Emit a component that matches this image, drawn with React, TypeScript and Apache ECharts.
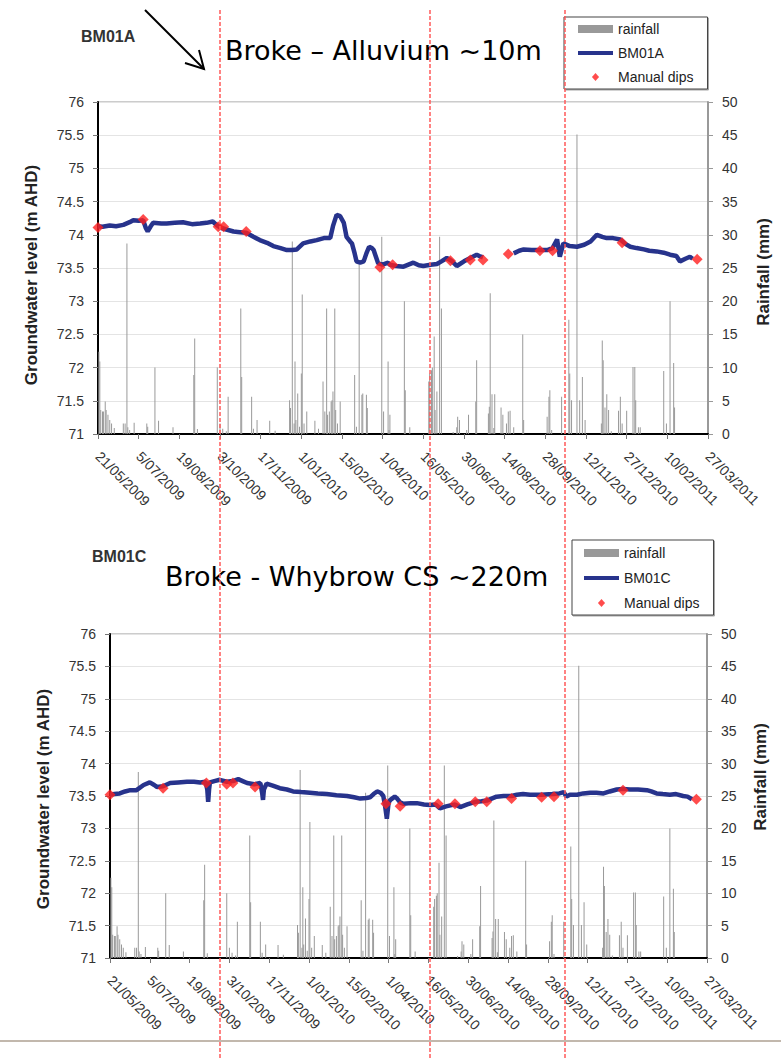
import React, { useEffect, useRef } from "react";
import * as echarts from "echarts";

// Day offsets from 21/05/2009
const X_MIN = 0;
const X_MAX = 675;
const X_STEP = 45;

// Daily rainfall [day, mm]
const RAINFALL: [number, number][] = [
  [1, 12.4], [2, 10.9], [3, 3.6], [5, 3.4], [6, 3.4], [8, 4.9], [9, 3.6], [11, 2.9], [13, 2.1], [15, 1.6],
  [18, 0.9], [28, 1.6], [30, 1.6], [32, 28.7], [33, 1.0], [35, 0.6], [40, 1.7], [54, 1.6], [55, 1.1],
  [63, 10.0], [67, 2.0], [83, 1.0], [106, 8.9], [107, 14.4], [110, 0.75], [132, 10.0], [135, 1.6],
  [138, 0.8], [142, 0.4], [144, 5.6], [158, 18.9], [159, 8.6], [170, 5.6], [172, 0.8], [176, 2.1],
  [190, 2.0], [196, 0.5], [212, 5.1], [213, 3.9], [215, 29.0], [217, 1.6], [218, 10.9], [219, 2.1],
  [221, 6.1], [223, 1.1], [225, 9.1], [226, 21.0], [228, 1.6], [231, 3.4], [240, 2.0], [244, 0.8],
  [249, 7.9], [251, 3.4], [253, 18.9], [254, 2.9], [256, 3.4], [258, 4.9], [259, 5.1], [260, 6.4],
  [262, 18.9], [263, 3.6], [265, 1.6], [268, 4.9], [284, 8.9], [286, 1.1], [289, 25.5], [292, 5.9],
  [293, 6.1], [297, 5.9], [298, 3.9], [314, 29.7], [316, 3.4], [321, 10.9], [322, 0.6], [323, 2.9],
  [339, 20.0], [340, 6.6], [345, 1.0], [366, 7.9], [367, 9.1], [369, 9.6], [370, 10.0], [372, 14.7],
  [373, 3.6], [375, 6.4], [378, 29.7], [380, 18.9], [393, 0.3], [397, 1.0], [398, 2.6], [400, 2.1],
  [408, 0.6], [410, 2.9], [418, 4.9], [419, 11.1], [432, 3.1], [433, 4.1], [434, 21.2], [436, 6.0],
  [438, 0.9], [439, 6.0], [446, 4.0], [448, 2.9], [452, 1.6], [454, 3.4], [456, 3.5], [460, 1.0],
  [470, 15.0], [471, 2.1], [497, 2.6], [499, 5.6], [500, 6.6], [502, 0.6], [513, 5.6], [521, 17.2],
  [522, 9.1], [524, 5.1], [530, 45.1], [533, 5.1], [536, 8.6], [539, 2.1], [557, 1.6], [558, 14.1],
  [559, 11.1], [561, 4.0], [563, 6.0], [565, 3.6], [568, 0.4], [576, 3.5], [578, 5.6], [580, 1.6],
  [585, 3.5], [592, 10.1], [594, 10.1], [595, 5.1], [598, 1.0], [600, 1.0], [626, 9.5], [629, 1.6],
  [633, 20.0], [637, 10.7], [638, 4.0],
];

// BM01A logger level [day, m AHD] (two segments, gap in record)
const BM01A_PART1: [number, number][] = [
  [0, 74.13], [5, 74.12], [13, 74.14], [20, 74.13], [28, 74.15], [35, 74.19], [39, 74.22], [45, 74.21],
  [50, 74.22], [53, 74.1], [55, 74.05], [58, 74.12], [61, 74.18], [70, 74.17], [76, 74.17], [85, 74.18],
  [94, 74.19], [104, 74.16], [113, 74.17], [120, 74.18], [127, 74.2], [131, 74.15], [135, 74.11],
  [142, 74.08], [150, 74.05], [157, 74.04], [164, 74.03], [172, 73.97], [179, 73.92], [187, 73.88],
  [194, 73.83], [202, 73.8], [209, 73.77], [215, 73.77], [220, 73.78], [227, 73.87], [235, 73.9],
  [242, 73.92], [250, 73.95], [257, 73.95], [260, 74.13], [264, 74.3], [268, 74.28], [272, 74.18],
  [275, 73.97], [279, 73.9], [281, 73.87], [284, 73.72], [286, 73.6], [290, 73.58], [294, 73.6],
  [297, 73.72], [300, 73.82], [303, 73.8], [305, 73.77], [308, 73.65], [310, 73.57], [315, 73.55],
  [321, 73.58], [323, 73.55], [330, 73.53], [338, 73.52], [349, 73.58], [355, 73.54], [360, 73.53],
  [368, 73.55], [375, 73.56], [380, 73.6], [386, 73.65], [392, 73.6], [397, 73.53], [405, 73.6],
  [412, 73.65], [419, 73.7], [422, 73.68], [426, 73.66],
];
const BM01A_PART2: [number, number][] = [
  [460, 73.72], [466, 73.76], [471, 73.78], [480, 73.77], [489, 73.77], [497, 73.77], [503, 73.8],
  [508, 73.93], [511, 73.67], [515, 73.87], [522, 73.83], [530, 73.82], [538, 73.85], [545, 73.9],
  [552, 74.0], [558, 73.97], [563, 73.95], [570, 73.95], [578, 73.93], [584, 73.86], [589, 73.82],
  [596, 73.8], [604, 73.78], [610, 73.76], [618, 73.75], [626, 73.73], [633, 73.7], [640, 73.68],
  [644, 73.6], [650, 73.64], [655, 73.67], [658, 73.64],
];
const BM01A_DIPS: [number, number][] = [
  [0, 74.11], [50, 74.23], [133, 74.12], [139, 74.12], [164, 74.05], [312, 73.51], [326, 73.55],
  [390, 73.61], [412, 73.62], [426, 73.62], [454, 73.71], [489, 73.76], [503, 73.76], [580, 73.88],
  [663, 73.63],
];

// BM01C logger level [day, m AHD]
const BM01C_LEVEL: [number, number][] = [
  [0, 73.52], [5, 73.53], [11, 73.54], [17, 73.57], [23, 73.59], [30, 73.59], [38, 73.67], [45, 73.71],
  [50, 73.67], [53, 73.64], [60, 73.65], [68, 73.7], [77, 73.71], [87, 73.72], [95, 73.72], [102, 73.71],
  [108, 73.72], [110, 73.6], [111, 73.41], [112, 73.6], [113, 73.71], [118, 73.73], [124, 73.75],
  [132, 73.72], [139, 73.73], [145, 73.76], [150, 73.73], [155, 73.7], [163, 73.68], [170, 73.7],
  [172, 73.55], [173, 73.44], [174, 73.6], [177, 73.69], [184, 73.66], [192, 73.62], [200, 73.6],
  [207, 73.57], [216, 73.56], [226, 73.55], [235, 73.54], [245, 73.53], [256, 73.51], [268, 73.5],
  [276, 73.48], [283, 73.46], [290, 73.47], [294, 73.48], [298, 73.53], [302, 73.57], [306, 73.55],
  [309, 73.5], [311, 73.35], [313, 73.15], [315, 73.4], [317, 73.44], [322, 73.49], [324, 73.47],
  [328, 73.4], [332, 73.38], [340, 73.39], [347, 73.39], [355, 73.37], [362, 73.36], [368, 73.37],
  [373, 73.31], [380, 73.34], [390, 73.37], [396, 73.33], [404, 73.37], [413, 73.41], [420, 73.42],
  [426, 73.43], [437, 73.49], [445, 73.5], [454, 73.5], [460, 73.52], [467, 73.53], [475, 73.52],
  [488, 73.52], [500, 73.53], [508, 73.54], [513, 73.56], [516, 73.49], [520, 73.52], [528, 73.52],
  [535, 73.54], [543, 73.55], [550, 73.55], [558, 73.54], [565, 73.57], [573, 73.6], [580, 73.61],
  [588, 73.6], [597, 73.6], [607, 73.59], [612, 73.57], [618, 73.54], [625, 73.53], [633, 73.52],
  [640, 73.53], [648, 73.5], [653, 73.49], [658, 73.45],
];
const BM01C_DIPS: [number, number][] = [
  [0, 73.52], [60, 73.62], [109, 73.7], [132, 73.68], [139, 73.7], [164, 73.64], [312, 73.38],
  [328, 73.34], [371, 73.38], [390, 73.38], [413, 73.41], [426, 73.41], [454, 73.46], [488, 73.48],
  [502, 73.49], [580, 73.59], [663, 73.45],
];

const BASE = Date.UTC(2009, 4, 21);
const fmtDate = (v: number) => {
  const d = new Date(BASE + Math.round(v) * 86400000);
  return `${d.getUTCDate()}/${String(d.getUTCMonth() + 1).padStart(2, "0")}/${d.getUTCFullYear()}`;
};

const FONT = "Liberation Sans, Arial, sans-serif";
const NAVY = "#27338c";
const RED = "#ff1f1f";
const RAIN_GREY = "#999999";

function xAxis(gridIndex: number) {
  return {
    type: "value",
    gridIndex,
    min: X_MIN,
    max: X_MAX,
    interval: X_STEP,
    axisLine: { show: true, onZero: false, lineStyle: { color: "#000", width: 2 } },
    axisTick: { show: true, length: 5, lineStyle: { color: "#777" } },
    axisLabel: {
      rotate: -45,
      margin: 20,
      formatter: fmtDate,
      color: "#333",
      fontSize: 14,
      fontFamily: FONT,
      showMinLabel: true,
      showMaxLabel: true,
    },
    splitLine: { show: false },
  };
}

function leftAxis(gridIndex: number) {
  return {
    type: "value",
    gridIndex,
    position: "left",
    min: 71,
    max: 76,
    interval: 0.5,
    axisLine: { show: true, lineStyle: { color: "#000", width: 2 } },
    axisTick: { show: true, length: 5, lineStyle: { color: "#777" } },
    axisLabel: { margin: 14, color: "#333", fontSize: 14, fontFamily: FONT },
    splitLine: { show: true, lineStyle: { color: "#e4e4e4", width: 1 } },
  };
}

function rightAxis(gridIndex: number) {
  return {
    type: "value",
    gridIndex,
    position: "right",
    min: 0,
    max: 50,
    interval: 5,
    axisLine: { show: true, lineStyle: { color: "#999", width: 2 } },
    axisTick: { show: true, length: 5, lineStyle: { color: "#999" } },
    axisLabel: { margin: 14, color: "#333", fontSize: 14, fontFamily: FONT },
    splitLine: { show: false },
  };
}

function legend(left: number, top: number, name: string, pad: number[], gap: number) {
  return {
    orient: "vertical",
    left,
    top,
    padding: pad,
    itemGap: gap,
    itemWidth: 35,
    itemHeight: 8,
    symbolKeepAspect: true,
    selectedMode: false,
    backgroundColor: "#fff",
    borderColor: "#444",
    borderWidth: 1,
    shadowColor: "rgba(0,0,0,0.35)",
    shadowOffsetX: 1,
    shadowOffsetY: 1,
    shadowBlur: 0,
    textStyle: { fontSize: 14, fontFamily: FONT, color: "#222" },
    data: [
      { name: "rainfall", icon: "rect" },
      { name, icon: "path://M0 0H35V4H0Z" },
      { name: "Manual dips", icon: "path://M4 0L8 4.5L4 9L0 4.5Z" },
    ],
  };
}

function seriesFor(idx: number, name: string, level: (number | null)[][], dips: [number, number][]) {
  return [
    {
      name: "rainfall",
      type: "bar",
      xAxisIndex: idx,
      yAxisIndex: idx * 2 + 1,
      data: RAINFALL,
      barWidth: 1,
      itemStyle: { color: RAIN_GREY },
      z: 1,
    },
    {
      name,
      type: "line",
      xAxisIndex: idx,
      yAxisIndex: idx * 2,
      data: level,
      symbol: "none",
      connectNulls: false,
      lineStyle: { color: NAVY, width: 4.5 },
      itemStyle: { color: NAVY },
      z: 3,
    },
    {
      name: "Manual dips",
      type: "scatter",
      xAxisIndex: idx,
      yAxisIndex: idx * 2,
      data: dips,
      symbol: "diamond",
      symbolSize: 11,
      clip: false,
      itemStyle: { color: RED },
      z: 4,
    },
  ];
}

export default function App() {
  const ref = useRef<HTMLDivElement>(null);
  useEffect(() => {
    if (!ref.current) return;
    const chart = echarts.init(ref.current, undefined, { renderer: "svg" });
    const bm01a = [...BM01A_PART1, [443, null], ...BM01A_PART2];
    const dashX = [220, 430, 565];
    const option: any = {
      animation: false,
      backgroundColor: "#fff",
      grid: [
        { left: 98, top: 102, width: 610, height: 332, show: true, borderColor: "#999", borderWidth: 1 },
        { left: 110, top: 634, width: 597, height: 324, show: true, borderColor: "#999", borderWidth: 1 },
      ],
      xAxis: [xAxis(0), xAxis(1)],
      yAxis: [leftAxis(0), rightAxis(0), leftAxis(1), rightAxis(1)],
      legend: [
        legend(564, 17, "BM01A", [5, 14, 5, 14], 10),
        legend(572, 540, "BM01C", [6, 14, 5, 12], 11),
      ],
      series: [...seriesFor(0, "BM01A", bm01a, BM01A_DIPS), ...seriesFor(1, "BM01C", BM01C_LEVEL, BM01C_DIPS)],
      graphic: [
        { type: "text", x: 81, y: 36, style: { text: "BM01A", fontSize: 16, fontWeight: "bold", fontFamily: FONT, fill: "#333", align: "left", verticalAlign: "middle" } },
        { type: "text", x: 92, y: 556, style: { text: "BM01C", fontSize: 16, fontWeight: "bold", fontFamily: FONT, fill: "#333", align: "left", verticalAlign: "middle" } },
        { type: "text", x: 225, y: 50, style: { text: "Broke \u2013 Alluvium ~10m", fontSize: 27, fontFamily: "DejaVu Sans", fill: "#000", align: "left", verticalAlign: "middle" } },
        { type: "text", x: 165, y: 576, style: { text: "Broke - Whybrow CS ~220m", fontSize: 27, fontFamily: "DejaVu Sans", fill: "#000", align: "left", verticalAlign: "middle" } },
        { type: "text", x: 31, y: 275, rotation: Math.PI / 2, style: { text: "Groundwater level (m AHD)", fontSize: 17, fontWeight: "bold", fontFamily: FONT, fill: "#222", align: "center", verticalAlign: "middle" } },
        { type: "text", x: 43, y: 799, rotation: Math.PI / 2, style: { text: "Groundwater level (m AHD)", fontSize: 17, fontWeight: "bold", fontFamily: FONT, fill: "#222", align: "center", verticalAlign: "middle" } },
        { type: "text", x: 763, y: 272, rotation: Math.PI / 2, style: { text: "Rainfall (mm)", fontSize: 17, fontWeight: "bold", fontFamily: FONT, fill: "#222", align: "center", verticalAlign: "middle" } },
        { type: "text", x: 760, y: 777, rotation: Math.PI / 2, style: { text: "Rainfall (mm)", fontSize: 17, fontWeight: "bold", fontFamily: FONT, fill: "#222", align: "center", verticalAlign: "middle" } },
        { type: "polyline", shape: { points: [[145, 10], [204, 69]] }, style: { stroke: "#000", lineWidth: 2, fill: null } },
        { type: "polyline", shape: { points: [[185, 63], [204, 69], [199, 50]] }, style: { stroke: "#000", lineWidth: 2, fill: null } },
        { type: "line", shape: { x1: 0, y1: 1041, x2: 781, y2: 1041 }, style: { stroke: "#c2b8ad", lineWidth: 2 } },
        ...dashX.map((x) => ({
          type: "line",
          z: 100,
          shape: { x1: x, y1: 10, x2: x, y2: 1059 },
          style: { stroke: "#ff5a5a", lineWidth: 1.5, lineDash: [4, 2] },
        })),
      ],
    };
    chart.setOption(option);
    return () => chart.dispose();
  }, []);
  return <div ref={ref} style={{ position: "absolute", left: 0, top: 0, width: 781, height: 1059 }} />;
}
